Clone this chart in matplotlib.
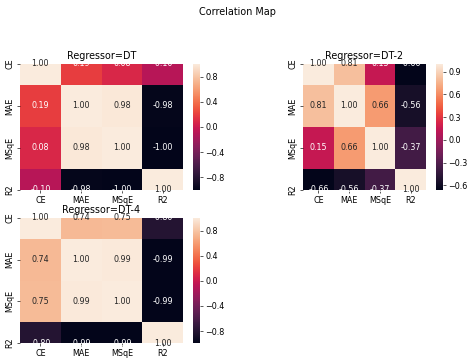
import numpy as np
import matplotlib
matplotlib.use("Agg")
import matplotlib.pyplot as plt
import seaborn as sns

metrics = ["CE", "MAE", "MSqE", "R2"]

corr_dt = [[1.00, 0.19, 0.08, -0.10],
           [0.19, 1.00, 0.98, -0.98],
           [0.08, 0.98, 1.00, -1.00],
           [-0.10, -0.98, -1.00, 1.00]]
corr_dt2 = [[1.00, 0.81, 0.15, -0.66],
            [0.81, 1.00, 0.66, -0.56],
            [0.15, 0.66, 1.00, -0.37],
            [-0.66, -0.56, -0.37, 1.00]]
corr_dt4 = [[1.00, 0.74, 0.75, -0.80],
            [0.74, 1.00, 0.99, -0.99],
            [0.75, 0.99, 1.00, -0.99],
            [-0.80, -0.99, -0.99, 1.00]]

regressors = ["DT", "DT-2", "DT-4"]
matrices = [corr_dt, corr_dt2, corr_dt4]
cbar_ticks = [[-0.8, -0.4, 0.0, 0.4, 0.8],
              [-0.6, -0.3, 0.0, 0.3, 0.6, 0.9],
              [-0.8, -0.4, 0.0, 0.4, 0.8]]

W, H = 474, 361
DPI = 58
fig = plt.figure(figsize=(W / DPI, H / DPI), dpi=DPI)


def px_axes(x0, y0, x1, y1):
    # pixel box (top-left origin) -> figure fraction axes
    return fig.add_axes([x0 / W, 1 - y1 / H, (x1 - x0) / W, (y1 - y0) / H])


# heatmap box, colorbar box (pixels)
boxes = [((20, 64, 183, 190), (193, 64, 199.5, 190)),
         ((303, 64, 426, 190), (436, 64, 442.5, 190)),
         ((20, 218, 183, 343), (193, 218, 199.5, 343))]

for name, mat, ticks, (hb, cb) in zip(regressors, matrices, cbar_ticks, boxes):
    ax = px_axes(*hb)
    cax = px_axes(*cb)
    data = np.array(mat)
    sns.heatmap(data, annot=True, fmt=".2f", ax=ax, cbar_ax=cax,
                xticklabels=metrics, yticklabels=metrics)
    ax.set_ylim(len(metrics) - 0.5, 0.5)
    ax.set_yticklabels(metrics, rotation=90, va="center")
    ax.set_title(f"Regressor={name}")
    cax.set_yticks(ticks)

fig.suptitle("Correlation Map")
fig.savefig("out.png", dpi=DPI)
